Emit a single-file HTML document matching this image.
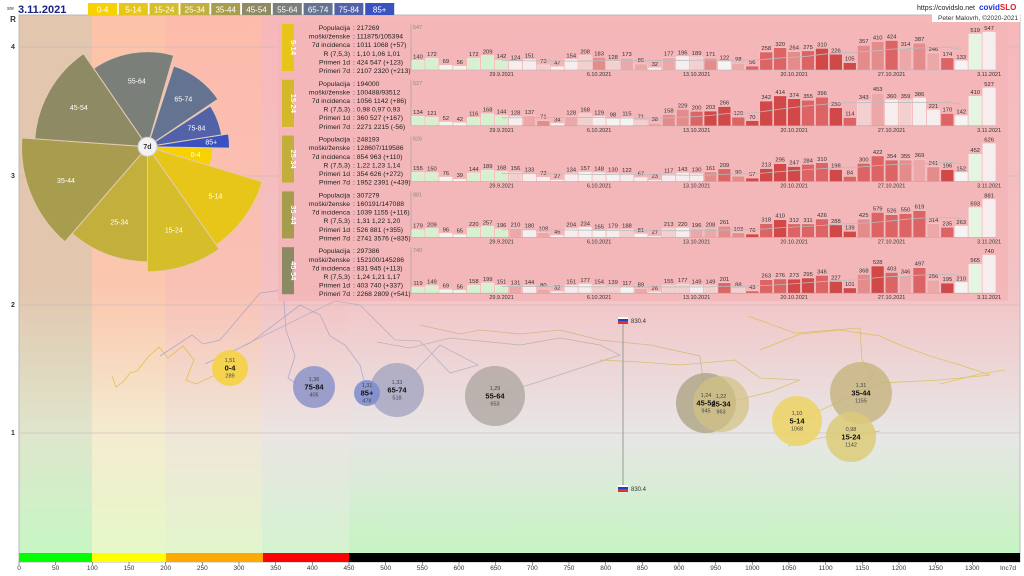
<!DOCTYPE html>
<html><head><meta charset="utf-8">
<style>
html,body{margin:0;padding:0;background:#fff;}
svg{display:block;font-family:"Liberation Sans",sans-serif;}
</style></head>
<body>
<svg id="s" width="1024" height="576" viewBox="0 0 1024 576" xmlns="http://www.w3.org/2000/svg">
<defs>
<linearGradient id="gA" x1="0" y1="15" x2="0" y2="553" gradientUnits="userSpaceOnUse"><stop offset="0" stop-color="#e2c6ae"/><stop offset="0.5" stop-color="#e2c6ae"/><stop offset="0.78" stop-color="#dfe6cc"/><stop offset="1" stop-color="#c6f6c4"/></linearGradient>
<linearGradient id="gB" x1="0" y1="15" x2="0" y2="553" gradientUnits="userSpaceOnUse"><stop offset="0" stop-color="#fdc3a8"/><stop offset="0.5" stop-color="#fbc6ae"/><stop offset="0.78" stop-color="#f4ecd0"/><stop offset="1" stop-color="#e6f8c8"/></linearGradient>
<linearGradient id="gC" x1="0" y1="15" x2="0" y2="553" gradientUnits="userSpaceOnUse"><stop offset="0" stop-color="#fdbbab"/><stop offset="0.5" stop-color="#f9c0b4"/><stop offset="0.78" stop-color="#f0e6d8"/><stop offset="1" stop-color="#e2f6cc"/></linearGradient>
<linearGradient id="gD" x1="0" y1="15" x2="0" y2="553" gradientUnits="userSpaceOnUse"><stop offset="0" stop-color="#f8b8ba"/><stop offset="0.5" stop-color="#f4c0c2"/><stop offset="0.78" stop-color="#ebe5e3"/><stop offset="1" stop-color="#d4f3d0"/></linearGradient>
<linearGradient id="gE" x1="0" y1="15" x2="0" y2="553" gradientUnits="userSpaceOnUse"><stop offset="0" stop-color="#f7b8ba"/><stop offset="0.5" stop-color="#f3c2c4"/><stop offset="0.78" stop-color="#e8e6e6"/><stop offset="1" stop-color="#c6f4c2"/></linearGradient>
</defs>
<rect x="0" y="0" width="1024" height="576" fill="#fff"/>
<rect x="19" y="15" width="73" height="538" fill="url(#gA)"/>
<rect x="92" y="15" width="73" height="538" fill="url(#gB)"/>
<rect x="165" y="15" width="97" height="538" fill="url(#gC)"/>
<rect x="262" y="15" width="87" height="538" fill="url(#gD)"/>
<rect x="349" y="15" width="671" height="538" fill="url(#gE)"/>
<rect x="19" y="15" width="1001" height="547" fill="none" stroke="#bbb" stroke-width="1"/>
<g stroke="#c8b8b8" stroke-width="0.8" opacity="0.8">
<line x1="19" y1="47" x2="1020" y2="47"/><line x1="19" y1="176" x2="1020" y2="176"/><line x1="19" y1="305" x2="1020" y2="305"/><line x1="19" y1="433" x2="1020" y2="433"/>
</g>
<g font-size="7" fill="#333" text-anchor="middle" font-weight="bold">
<text x="13" y="49">4</text><text x="13" y="178">3</text><text x="13" y="307">2</text><text x="13" y="435">1</text>
<text x="13" y="22" font-size="8">R</text>
</g>
<rect x="19" y="553" width="73" height="9" fill="#00ff00"/>
<rect x="92" y="553" width="74" height="9" fill="#ffff00"/>
<rect x="166" y="553" width="97" height="9" fill="#ffaa00"/>
<rect x="263" y="553" width="86" height="9" fill="#ff0000"/>
<rect x="349" y="553" width="671" height="9" fill="#000"/>
<g id="xt" font-size="6.5" fill="#333" text-anchor="middle"></g>
<text x="7" y="10" font-size="5" fill="#333">sre</text>
<text x="18" y="13" font-size="11" font-weight="bold" fill="#1a237e">3.11.2021</text>
<g id="leg" font-size="8" fill="#fff" text-anchor="middle"></g>
<text x="975" y="10" font-size="7" fill="#222" text-anchor="end">https://covidslo.net</text>
<text x="979" y="10" font-size="8" font-weight="bold" fill="#1b2ee0">covid<tspan fill="#e01b1b">SLO</tspan></text>
<rect x="932" y="13" width="88" height="9" fill="#fff"/>
<text x="1018" y="20" font-size="6.5" fill="#333" text-anchor="end">Peter Malovrh, ©2020-2021</text>
<g fill="none" stroke-width="0.8" opacity="0.75">
<polyline stroke="#d9b830" points="112,376 116,387 123,382 130,373 137,371 148,357 159,347 168,358 183,346 194,360 186,380 196,384 230,368"/>
<polyline stroke="#9a9ec8" points="160,356 192,335 203,344 220,340 260,293 283,290 286,330 295,356 288,378 300,386 314,387"/>
<polyline stroke="#9a9ec8" points="205,364 250,343 300,305 320,315 330,336 345,345 360,365 367,393"/>
<polyline stroke="#a8a8c0" points="245,345 300,318 335,301 360,305 395,340 420,341 450,373 478,365 440,345 397,390"/>
<polyline stroke="#b0a8a0" points="377,342 410,348 450,338 520,345 560,338 600,345 620,355 495,396"/>
<polyline stroke="#c8b070" points="420,325 460,334 480,330 520,334 560,330 600,340 650,345 700,356 706,403"/>
<polyline stroke="#d0b850" points="600,360 640,362 680,365 735,360 760,378 800,380 770,392 721,404"/>
<polyline stroke="#d4bc40" points="760,350 800,334 840,330 880,336 900,345 930,356 960,365 990,375 940,380 880,383 797,421"/>
<polyline stroke="#d4bc40" points="748,316 795,333 860,328 862,360 873,375 860,393"/>
<polyline stroke="#d8c040" points="788,446 800,442 836,435 880,431 851,437"/>
<polyline stroke="#e0c030" points="940,384 980,374 1005,370"/>
</g>
<line x1="623" y1="320" x2="623" y2="488" stroke="#999" stroke-width="1"/>
<rect x="618" y="317" width="10" height="2" fill="#fff"/><rect x="618" y="319" width="10" height="2" fill="#2040c0"/><rect x="618" y="321" width="10" height="3" fill="#e03030"/>
<text x="631" y="323" font-size="6" fill="#333">830.4</text>
<rect x="618" y="485" width="10" height="2" fill="#fff"/><rect x="618" y="487" width="10" height="2" fill="#2040c0"/><rect x="618" y="489" width="10" height="3" fill="#e03030"/>
<text x="631" y="491" font-size="6" fill="#333">830.4</text>
<g id="bub"></g>
<g id="pie"></g>
<rect x="278" y="22" width="730" height="279" fill="#f4b6b8" opacity="0.9"/>
<g id="pan"></g>
</svg>
<script>
var NS="http://www.w3.org/2000/svg";
function el(p,t,a,txt){var e=document.createElementNS(NS,t);for(var k in a)e.setAttribute(k,a[k]);if(txt!==undefined)e.textContent=txt;p.appendChild(e);return e;}
var xt=document.getElementById('xt');
for(var v=0;v<=1300;v+=50){el(xt,'text',{x:19+v*0.7333,y:570},String(v));el(xt,'line',{x1:19+v*0.7333,y1:562,x2:19+v*0.7333,y2:565,stroke:'#555','stroke-width':0.6});}
el(xt,'text',{x:1008,y:570},'Inc7d');
var names=['0-4','5-14','15-24','25-34','35-44','45-54','55-64','65-74','75-84','85+'];
var cols=['#f7d200','#e8c619','#d6bd2a','#c3af3c','#a89d4e','#8e8a63','#7a7f7a','#64738f','#5162a8','#3a52c0'];
var leg=document.getElementById('leg');
for(var i=0;i<10;i++){var x=88+i*30.8;el(leg,'rect',{x:x,y:3,width:29,height:12,fill:cols[i]});el(leg,'text',{x:x+14.5,y:12.5},names[i]);}
var pie=document.getElementById('pie');var cx=147.5,cy=146.7;
var sec=[[-1,-17,65],[-17,-55,120],[-55,-90,125],[-90,-131,115],[-131,-184,126],[-184,-235.5,113],[-235.5,-286,95],[-288,-326,85],[-327,-351,75],[-351,-361,82]];
for(var i=0;i<10;i++){var s=sec[i],a1=-s[0]*Math.PI/180,a2=-s[1]*Math.PI/180,r=s[2];
var x1=cx+r*Math.cos(a1),y1=cy+r*Math.sin(a1),x2=cx+r*Math.cos(a2),y2=cy+r*Math.sin(a2);
el(pie,'path',{d:'M'+cx+','+cy+' L'+x1+','+y1+' A'+r+','+r+' 0 0 1 '+x2+','+y2+' Z',fill:cols[i],stroke:'#e6c9b4','stroke-width':1});
var am=(a1+a2)/2,rr=r*0.7;if(i==9)rr=r*0.78;if(i==0)rr=r*0.75;
el(pie,'text',{x:cx+rr*Math.cos(am),y:cy+rr*Math.sin(am)+2.5,'font-size':7,fill:'#fff','text-anchor':'middle'},names[i]);}
el(pie,'circle',{cx:cx,cy:cy,r:9.5,fill:'#f2f2f2',stroke:'#ccc'});
el(pie,'text',{x:cx,y:cy+2.5,'font-size':7,fill:'#333','text-anchor':'middle','font-weight':'bold'},'7d');
var bub=document.getElementById('bub');
var bb=[[230,368,18,'#f5d142',0.9,'1,51','0-4','289'],[314,387,21,'#8c93c8',0.85,'1,36','75-84','405'],[397,390,27,'#a8a8c2',0.85,'1,33','65-74','518'],[367,393,13,'#7b8ccc',0.85,'1,31','85+','478'],[495,396,30,'#b3aaa6',0.85,'1,29','55-64','653'],[706,403,30,'#aea486',0.8,'1,24','45-54','945'],[721,404,28,'#d3c282',0.7,'1,22','25-34','963'],[797,421,25,'#ecd46a',0.9,'1,10','5-14','1068'],[861,393,31,'#c6b47e',0.8,'1,31','35-44','1155'],[851,437,25,'#dccb78',0.85,'0,98','15-24','1142']];
bb.forEach(function(b){el(bub,'circle',{cx:b[0],cy:b[1],r:b[2],fill:b[3],opacity:b[4]});});
bb.forEach(function(b){el(bub,'text',{x:b[0],y:b[1]-6,'font-size':5.5,fill:'#444','text-anchor':'middle'},b[5]);
el(bub,'text',{x:b[0],y:b[1]+2.5,'font-size':7.5,fill:'#111','text-anchor':'middle','font-weight':'bold'},b[6]);
el(bub,'text',{x:b[0],y:b[1]+9.5,'font-size':5.5,fill:'#444','text-anchor':'middle'},b[7]);});
var P=[
{n:'5-14',c:'#e8c619',t:['217269','111875/105394','1011 1068 (+57)','1,10 1,06 1,01','424 547 (+123)','2107 2320 (+213)'],
d:[140,172,69,56,172,209,142,124,151,73,47,154,208,183,128,173,86,32,177,196,189,171,122,98,56,258,320,264,275,310,226,105,357,410,424,314,387,246,174,133,519,547]},
{n:'15-24',c:'#d3b82a',t:['194000','100488/93512','1056 1142 (+86)','0,98 0,97 0,93','360 527 (+167)','2271 2215 (-56)'],
d:[134,121,52,42,116,168,144,128,137,71,34,128,168,129,98,115,71,38,158,229,200,203,266,120,70,342,414,374,355,396,250,114,343,453,360,359,386,221,170,142,410,527]},
{n:'25-34',c:'#c2ae3a',t:['248193','128607/119586','854 963 (+110)','1,22 1,23 1,14','354 626 (+272)','1952 2391 (+439)'],
d:[155,150,76,39,144,189,168,156,133,72,27,134,157,148,130,122,67,23,117,143,130,161,209,90,57,213,295,247,284,310,198,84,300,422,354,355,369,241,196,152,452,626]},
{n:'35-44',c:'#a59c4e',t:['307279','160191/147088','1039 1155 (+116)','1,31 1,22 1,20','526 881 (+355)','2741 3576 (+835)'],
d:[179,209,96,65,220,257,196,210,180,108,45,204,234,165,179,188,81,27,213,220,196,208,261,103,76,318,410,312,311,426,288,139,425,579,526,550,619,314,235,263,693,881]},
{n:'45-54',c:'#8c8a62',t:['297386','152100/145286','831 945 (+113)','1,24 1,21 1,17','403 740 (+337)','2268 2809 (+541)'],
d:[119,149,69,56,158,199,151,131,144,80,32,151,177,154,139,117,89,26,155,177,149,149,201,88,43,263,276,273,295,346,227,101,368,528,403,346,497,256,195,210,565,740]}];
var labs=['Populacija','moški/ženske','7d incidenca','R (7,5,3)','Primeri 1d','Primeri 7d'];
var dates={6:'29.9.2021',13:'6.10.2021',20:'13.10.2021',27:'20.10.2021',34:'27.10.2021',41:'3.11.2021'};
var pan=document.getElementById('pan');
P.forEach(function(p,k){var top=23+k*55.8,base=top+47;
el(pan,'rect',{x:282,y:top+1,width:12,height:47,fill:p.c});
el(pan,'text',{x:0,y:0,'font-size':7.5,fill:'#fff','font-weight':'bold','text-anchor':'middle',transform:'translate(291,'+(top+24.5)+') rotate(90)'},p.n);
for(var i=0;i<6;i++){var y=top+7+i*8.6;
el(pan,'text',{x:350,y:y,'font-size':6.8,fill:'#222','text-anchor':'end'},labs[i]);
el(pan,'text',{x:353,y:y,'font-size':6.8,fill:'#222'},': '+p.t[i]);}
var mx=Math.max.apply(null,p.d);
el(pan,'line',{x1:411,y1:top+1,x2:411,y2:base,stroke:'#999','stroke-width':0.6});
el(pan,'text',{x:413,y:top+6,'font-size':5.5,fill:'#888'},String(mx));
var avg=[];
for(var i=0;i<42;i++){var v=p.d[i],h=v/mx*38,x=411+i*13.93;
var col;var r=i>=7?v/p.d[i-7]:0.9;
if(i==40)col='#e6f5e2';else if(i==41)col='#f6eeee';
else if(r>1.8)col='#d04848';else if(r>1.4)col='#dc6464';else if(r>1.2)col='#e48c8c';else if(r>1.08)col='#eca8a8';else if(r>0.98)col='#f2d0d0';else if(r>0.85)col='#f6eeee';else col='#f4f4f2';
if(i<7)col=(v>100?'#d6f0d0':'#eef7ea');
el(pan,'rect',{x:x+0.6,y:base-h,width:12.7,height:h,fill:col,stroke:'#fff','stroke-width':0.4,'stroke-opacity':0.6});
el(pan,'text',{x:x+7,y:base-h-2,'font-size':5.8,fill:'#333','text-anchor':'middle'},String(v));
if(dates[i])el(pan,'text',{x:x+7,y:base+6,'font-size':5.5,fill:'#333','text-anchor':'middle'},dates[i]);
if(i>=6&&i<40){var s=0;for(var j=i-6;j<=i;j++)s+=p.d[j];avg.push((x+7)+','+(base-s/7/mx*38));}}
el(pan,'line',{x1:411,y1:base,x2:996,y2:base,stroke:'#aaa','stroke-width':0.6});
el(pan,'polyline',{points:avg.join(' '),fill:'none',stroke:'#bbb','stroke-width':0.8});
});
</script>
</body></html>
